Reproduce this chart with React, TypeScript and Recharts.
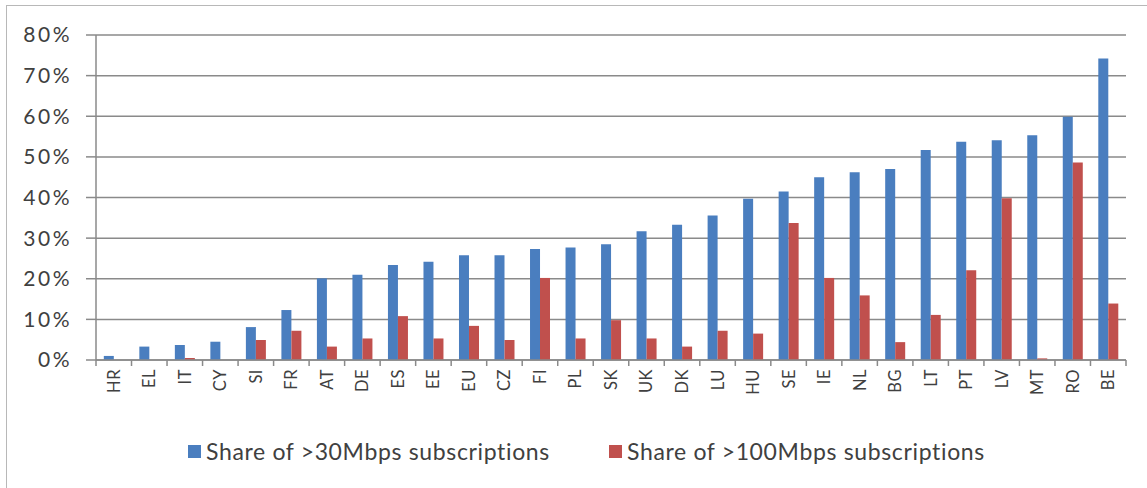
import React from 'react';
import { BarChart, Bar, XAxis, YAxis, CartesianGrid, Legend } from 'recharts';

const countries = ['HR','EL','IT','CY','SI','FR','AT','DE','ES','EE','EU','CZ','FI','PL','SK','UK','DK','LU','HU','SE','IE','NL','BG','LT','PT','LV','MT','RO','BE'];
const share30 = [1.0,3.3,3.7,4.5,8.1,12.3,20.1,21.0,23.4,24.2,25.8,25.8,27.3,27.7,28.5,31.7,33.3,35.6,39.7,41.5,45.0,46.2,47.0,51.7,53.7,54.1,55.3,59.9,74.2];
const share100 = [0,0,0.5,0,4.9,7.2,3.3,5.3,10.8,5.3,8.4,4.9,20.2,5.3,9.8,5.3,3.3,7.2,6.5,33.7,20.2,15.9,4.4,11.1,22.1,39.8,0.4,48.6,13.9];
const yTicks = [0,10,20,30,40,50,60,70,80];
const seriesNames = ['Share of >30Mbps subscriptions', 'Share of >100Mbps subscriptions'];
const seriesColors = ['#4A7EBF', '#C0504D'];

const data = countries.map((c, i) => ({ country: c, s30: share30[i], s100: share100[i] }));

const FONT = 'Lato, "Open Sans", sans-serif';
const TEXT = '#404040';
const GRID = '#8a8a8a';

const XTick = (props: any) => {
  const { x, y, payload, index } = props;
  const half = payload && payload.offset ? payload.offset : 1030 / countries.length / 2;
  const last = index === countries.length - 1;
  return (
    <g>
      <line x1={x - half} y1={y} x2={x - half} y2={y + 6} stroke={GRID} strokeWidth={1.5} />
      {last && <line x1={x + half} y1={y} x2={x + half} y2={y + 6} stroke={GRID} strokeWidth={1.5} />}
      <g transform={`translate(${x},${y + 9})`}>
        <text transform="rotate(-90)" textAnchor="end" dy="0.36em" fill={TEXT} fontFamily={FONT} fontSize={16.5} letterSpacing={0.5}>
          {payload.value}
        </text>
      </g>
    </g>
  );
};

const LegendContent = () => (
  <div style={{ position: 'relative', width: 1147, height: 30, fontFamily: FONT, fontSize: 23, color: TEXT }}>
    {seriesNames.map((n, i) => (
      <div key={n} style={{ position: 'absolute', left: i === 0 ? 188 : 609, top: 0, display: 'flex', alignItems: 'center', whiteSpace: 'nowrap', letterSpacing: 0.65 }}>
        <span style={{ display: 'inline-block', width: 13, height: 13, background: seriesColors[i], marginRight: 5 }} />
        <span>{n}</span>
      </div>
    ))}
  </div>
);

export default function App() {
  return (
    <div style={{ position: 'absolute', left: 0, top: 0, width: 1147, height: 488, overflow: 'hidden', background: '#fff' }}>
      <div style={{ position: 'absolute', left: 6, top: 5, width: 1300, height: 700, borderLeft: '1.5px solid #b8b8b8', borderTop: '1.5px solid #b8b8b8' }} />
      <div style={{ position: 'absolute', left: 0, top: 0 }}>
        <BarChart width={1147} height={488} data={data} margin={{ top: 35, right: 21, left: 0, bottom: 0 }} barCategoryGap="22%" barGap={0}>
          <CartesianGrid vertical={false} stroke={GRID} strokeWidth={1.5} />
          <XAxis dataKey="country" interval={0} height={98} tickSize={0} tickMargin={0} tickLine={false} axisLine={{ stroke: GRID, strokeWidth: 1.5 }} tick={<XTick />} />
          <YAxis domain={[0, 80]} ticks={yTicks} width={96} tickSize={10} tickMargin={14} tickFormatter={(v: number) => `${v}%`} axisLine={{ stroke: GRID, strokeWidth: 1.5 }} tickLine={{ stroke: GRID, strokeWidth: 1.5 }} tick={{ fill: TEXT, fontFamily: FONT, fontSize: 21, letterSpacing: 2.5 }} />
          <Legend content={<LegendContent />} wrapperStyle={{ position: 'absolute', left: 0, top: 437, width: 1147 }} />
          <Bar dataKey="s30" name={seriesNames[0]} fill={seriesColors[0]} isAnimationActive={false} />
          <Bar dataKey="s100" name={seriesNames[1]} fill={seriesColors[1]} isAnimationActive={false} />
        </BarChart>
      </div>
    </div>
  );
}
